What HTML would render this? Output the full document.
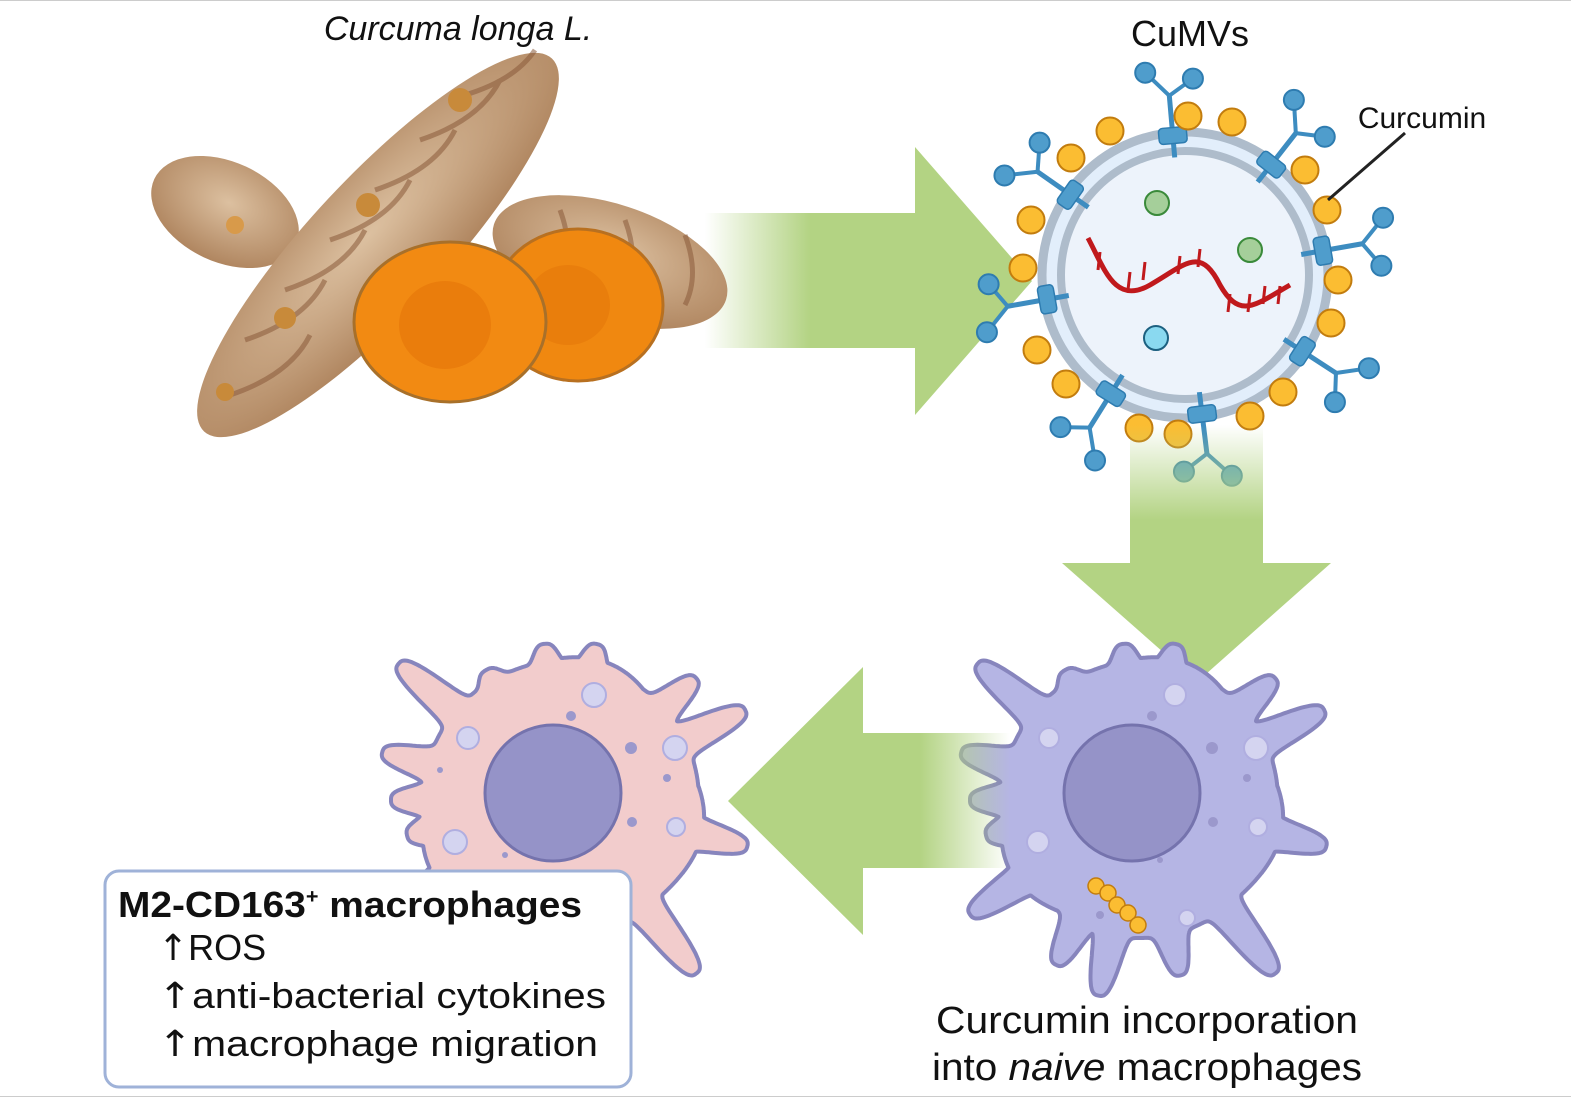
<!DOCTYPE html>
<html><head><meta charset="utf-8"><style>
html,body{margin:0;padding:0;background:#fff;}
svg{display:block;}
text{font-family:"Liberation Sans",sans-serif;fill:#111;}
.ar{font-family:"DejaVu Sans",sans-serif;}
</style></head><body>
<svg id="s" width="1571" height="1100" viewBox="0 0 1571 1100" xmlns="http://www.w3.org/2000/svg">
<defs>
<linearGradient id="gR" x1="705" y1="0" x2="810" y2="0" gradientUnits="userSpaceOnUse"><stop offset="0" stop-color="#b3d383" stop-opacity="0"/><stop offset="1" stop-color="#b3d383"/></linearGradient>
<linearGradient id="gD" x1="0" y1="425" x2="0" y2="520" gradientUnits="userSpaceOnUse"><stop offset="0" stop-color="#b3d383" stop-opacity="0"/><stop offset="1" stop-color="#b3d383"/></linearGradient>
<linearGradient id="gL" x1="1010" y1="0" x2="920" y2="0" gradientUnits="userSpaceOnUse"><stop offset="0" stop-color="#b3d383" stop-opacity="0"/><stop offset="1" stop-color="#b3d383"/></linearGradient>
<radialGradient id="sk" cx="0.5" cy="0.4" r="0.6"><stop offset="0" stop-color="#dcc0a0"/><stop offset="1" stop-color="#b08660"/></radialGradient>
</defs>
<rect x="0" y="0" width="1571" height="1100" fill="#fff"/>
<line x1="0" y1="0.5" x2="1571" y2="0.5" stroke="#ccc"/>
<line x1="0" y1="1096.5" x2="1571" y2="1096.5" stroke="#ccc"/>

<rect x="705" y="213" width="212" height="135" fill="url(#gR)"/>
<polygon points="915,147 1032,281 915,415" fill="#b3d383"/>

<g>
<ellipse cx="225" cy="212" rx="78" ry="50" transform="rotate(25 225 212)" fill="url(#sk)"/>
<ellipse cx="610" cy="262" rx="122" ry="58" transform="rotate(18 610 262)" fill="url(#sk)"/>
<ellipse cx="378" cy="245" rx="255" ry="68" transform="rotate(-47 378 245)" fill="url(#sk)"/>
<g stroke="#8a5a3a" stroke-width="5" fill="none" opacity="0.55">
<path d="M230 395 q60 -20 80 -60"/><path d="M245 340 q60 -20 80 -60"/><path d="M285 290 q60 -20 80 -60"/><path d="M330 240 q60 -20 80 -60"/><path d="M375 190 q60 -20 80 -60"/><path d="M420 140 q60 -20 80 -60"/><path d="M465 95 q50 -15 70 -45"/>
<path d="M560 210 q15 40 0 70"/><path d="M625 220 q15 40 0 70"/><path d="M685 235 q15 40 0 70"/>
</g>
<circle cx="368" cy="205" r="12" fill="#c88a3a"/><circle cx="460" cy="100" r="12" fill="#c88a3a"/><circle cx="285" cy="318" r="11" fill="#c88a3a"/><circle cx="225" cy="392" r="9" fill="#c88a3a"/><circle cx="235" cy="225" r="9" fill="#d89a4a"/>
<ellipse cx="578" cy="305" rx="85" ry="76" fill="#f08810" stroke="#b87020" stroke-width="3"/>
<ellipse cx="568" cy="305" rx="42" ry="40" fill="#e97e0c"/>
<ellipse cx="450" cy="322" rx="96" ry="80" fill="#f28a12" stroke="#a8702a" stroke-width="3"/>
<ellipse cx="445" cy="325" rx="46" ry="44" fill="#ea7d0c"/>
</g>

<g id="ves"></g>

<rect x="1130" y="425" width="133" height="140" fill="url(#gD)"/>
<polygon points="1062,563 1331,563 1197,682" fill="#b3d383"/>

<g id="cells"></g>

<polygon points="863,667 728,801 863,935" fill="#b3d383"/>
<rect x="861" y="733" width="150" height="135" fill="url(#gL)"/>

<text x="458" y="40" font-size="34" font-style="italic" text-anchor="middle">Curcuma longa L.</text>
<text x="1190" y="46" font-size="36" text-anchor="middle">CuMVs</text>
<text x="1422" y="128" font-size="30" text-anchor="middle">Curcumin</text>
<line x1="1405" y1="133" x2="1328" y2="200" stroke="#222" stroke-width="3"/>

<rect x="105" y="871" width="526" height="216" rx="14" fill="#fff" stroke="#9fb2d8" stroke-width="3"/>
<text x="118" y="917" font-size="36" font-weight="bold" textLength="464" lengthAdjust="spacingAndGlyphs">M2-CD163<tspan font-size="20" dy="-14">+</tspan><tspan dy="14"> macrophages</tspan></text>
<text x="158" y="960" font-size="36"><tspan class="ar">↑</tspan>ROS</text>
<text x="158" y="1008" font-size="36" textLength="448" lengthAdjust="spacingAndGlyphs"><tspan class="ar">↑</tspan>anti-bacterial cytokines</text>
<text x="158" y="1056" font-size="36" textLength="440" lengthAdjust="spacingAndGlyphs"><tspan class="ar">↑</tspan>macrophage migration</text>

<text x="1147" y="1033" font-size="38" text-anchor="middle" textLength="422" lengthAdjust="spacingAndGlyphs">Curcumin incorporation</text>
<text x="1147" y="1080" font-size="38" text-anchor="middle" textLength="430" lengthAdjust="spacingAndGlyphs">into <tspan font-style="italic">naive</tspan> macrophages</text>
</svg>
<script>
var NS="http://www.w3.org/2000/svg";
function el(p,t,a){var e=document.createElementNS(NS,t);for(var k in a)e.setAttribute(k,a[k]);p.appendChild(e);return e;}
var v=document.getElementById('ves'),cx=1185,cy=275;
el(v,'circle',{cx:cx,cy:cy,r:143,fill:'#e2eefb',stroke:'#aebccb','stroke-width':9});
el(v,'circle',{cx:cx,cy:cy,r:124,fill:'#edf3fb',stroke:'#aebccb','stroke-width':8});
var ang=[-95,-52,-10,33,83,122,170,-145];
ang.forEach(function(d){var a=d*Math.PI/180,c=Math.cos(a),s=Math.sin(a);
 function P(r,o){return [cx+c*r-s*o,cy+s*r+c*o];}
 var b0=P(118,0),m=P(180,0),l=P(205,-22),r=P(195,25);
 el(v,'line',{x1:b0[0],y1:b0[1],x2:m[0],y2:m[1],stroke:'#3d8cc0','stroke-width':5});
 el(v,'line',{x1:m[0],y1:m[1],x2:l[0],y2:l[1],stroke:'#3d8cc0','stroke-width':4});
 el(v,'line',{x1:m[0],y1:m[1],x2:r[0],y2:r[1],stroke:'#3d8cc0','stroke-width':4});
 el(v,'circle',{cx:l[0],cy:l[1],r:10,fill:'#4f9dcc',stroke:'#2e7cb0','stroke-width':2});
 el(v,'circle',{cx:r[0],cy:r[1],r:10,fill:'#4f9dcc',stroke:'#2e7cb0','stroke-width':2});
 var q=P(140,0);el(v,'rect',{x:q[0]-14,y:q[1]-8,width:28,height:16,rx:4,fill:'#4f9dcc',stroke:'#2e7cb0','stroke-width':1.5,transform:'rotate('+(d+90)+' '+q[0]+' '+q[1]+')'});
});
[[1110,131],[1188,116],[1232,122],[1071,158],[1305,170],[1327,210],[1031,220],[1023,268],[1338,280],[1331,323],[1037,350],[1066,384],[1283,392],[1250,416],[1139,428],[1178,434]].forEach(function(p){
 el(v,'circle',{cx:p[0],cy:p[1],r:13.5,fill:'#fbbd32',stroke:'#c27c0e','stroke-width':2});});
el(v,'path',{d:'M1088 238 C1105 270 1115 305 1150 285 C1185 265 1200 245 1220 285 C1240 320 1255 305 1290 285',fill:'none',stroke:'#c0191c','stroke-width':5});
[[1100,258],[1130,278],[1145,268],[1180,262],[1200,255],[1230,300],[1250,300],[1265,292],[1280,292]].forEach(function(p){
 el(v,'line',{x1:p[0],y1:p[1]-6,x2:p[0]-2,y2:p[1]+12,stroke:'#c0191c','stroke-width':3});});
el(v,'circle',{cx:1157,cy:203,r:12,fill:'#a5cf9a',stroke:'#3a8a3a','stroke-width':2});
el(v,'circle',{cx:1250,cy:250,r:12,fill:'#a5cf9a',stroke:'#3a8a3a','stroke-width':2});
el(v,'circle',{cx:1156,cy:338,r:12,fill:'#8ad9f0',stroke:'#1c6080','stroke-width':2});
function cell(g,cx,cy,R,spikes,fill,blobs){
 var pts=[];for(var i=0;i<1440;i++){var t=i/1440*2*Math.PI,r=R+6*Math.sin(3*t)+4*Math.sin(5*t+1);
  spikes.forEach(function(sp){var d=Math.atan2(Math.sin(t-sp[0]*Math.PI/180),Math.cos(t-sp[0]*Math.PI/180));
   var f=Math.abs(d)*R/13;
   r=Math.max(r,R+(sp[1]-R)*Math.exp(-Math.pow(f,3)));});
  pts.push((cx+r*Math.cos(t)).toFixed(1)+','+(cy+r*Math.sin(t)).toFixed(1));}
 el(g,'polygon',{points:pts.join(' '),fill:fill,stroke:'#8785bd','stroke-width':4,'stroke-linejoin':'round'});
 blobs.forEach(function(b){el(g,'circle',{cx:b[0],cy:b[1],r:b[2],fill:b[2]>6?'#d4d4f0':'#9b98cc',stroke:b[2]>6?'#b0aee0':'none','stroke-width':2});});
 el(g,'ellipse',{cx:cx-8,cy:cy-7,rx:68,ry:68,fill:'#9593c8',stroke:'#7573ad','stroke-width':3});
}
var C=document.getElementById('cells');
var sp=[[220,212],[240,150],[264,157],[283,160],[318,182],[334,205],[195,185],[180,170],[167,158],[14,192],[52,220],[77,180],[102,200],[117,185],[146,205]];
cell(C,561,800,138,sp,'#f2cccc',[[594,695,12],[468,738,11],[675,748,12],[455,842,12],[676,827,9],[631,748,6],[571,716,5],[632,822,5],[667,778,4],[440,770,3],[505,855,3]]);
cell(C,1140,800,138,sp,'#b5b5e4',[[1175,695,11],[1049,738,10],[1256,748,12],[1038,842,11],[1258,827,9],[1212,748,6],[1187,918,8],[1152,716,5],[1213,822,5],[1247,778,4],[1100,915,4],[1160,860,3]]);
[[1096,886],[1108,893],[1117,905],[1128,913],[1138,925]].forEach(function(p){el(C,'circle',{cx:p[0],cy:p[1],r:8,fill:'#fbbd32',stroke:'#c27c0e','stroke-width':1.5});});
</script>
</body></html>
